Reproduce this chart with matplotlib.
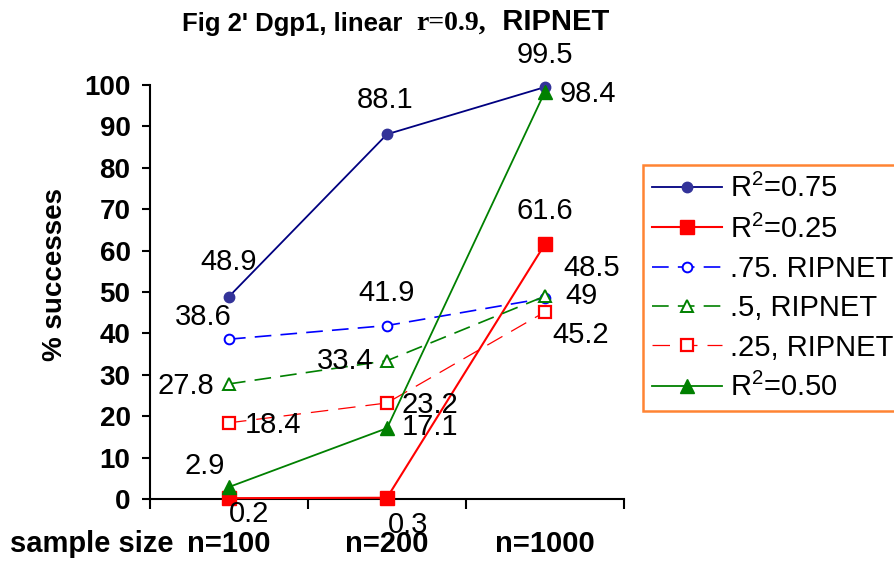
import matplotlib
matplotlib.use("Agg")
import matplotlib.pyplot as plt
import matplotlib.transforms as mtransforms

plt.rcParams['font.family'] = ['Liberation Sans', 'DejaVu Sans']
plt.rcParams['mathtext.fontset'] = 'custom'
plt.rcParams['mathtext.rm'] = 'Liberation Sans'
plt.rcParams['mathtext.it'] = 'Liberation Sans'

# data
sizes = ["n=100", "n=200", "n=1000"]
r75 = [48.9, 88.1, 99.5]
r25 = [0.2, 0.3, 61.6]
rip75 = [38.6, 41.9, 48.5]
rip50 = [27.8, 33.4, 49]
rip25 = [18.4, 23.2, 45.2]
r50 = [2.9, 17.1, 98.4]

labels = ["R$^2$=0.75", "R$^2$=0.25", ".75. RIPNET", ".5, RIPNET", ".25, RIPNET", "R$^2$=0.50"]

# where each value label sits relative to its point, in pixels (dx, dy up)
off_r75 = [(0, 35), (-2, 34), (0, 32)]
off_r25 = [(20, -16), (21, -27), (0, 33)]
off_rip75 = [(-26, 22), (0, 33), (47, 30)]
off_rip50 = [(-43, -2), (-42, 0), (37, 0)]
off_rip25 = [(44, -2), (43, -2), (36, -23)]
off_r50 = [(-24, 21), (43, 1), (43, -2)]

fig = plt.figure(figsize=(8.94, 5.62), dpi=100)
ax = fig.add_axes([150 / 894, 1 - 499 / 562, 474 / 894, 414 / 562])

x = list(range(len(sizes)))

series = [
    (r75, dict(color='#000080', lw=1.3, ls='-', marker='o', ms=7.5, mfc='#333399', mec='#333399'), off_r75),
    (r25, dict(color='#FF0000', lw=1.5, ls='-', marker='s', ms=9.5, mfc='#FF0000', mec='#FF0000'), off_r25),
    (rip75, dict(color='#0000FF', lw=1.2, ls=(0, (10, 5.5)), marker='o', ms=7, mfc='white', mec='#0000FF', mew=1.4), off_rip75),
    (rip50, dict(color='#008000', lw=1.2, ls=(0, (10, 5.5)), marker='^', ms=9, mfc='white', mec='#008000', mew=1.4), off_rip50),
    (rip25, dict(color='#FF0000', lw=0.9, ls=(0, (14, 8)), marker='s', ms=9, mfc='white', mec='#FF0000', mew=1.6), off_rip25),
    (r50, dict(color='#008000', lw=1.3, ls='-', marker='^', ms=10, mfc='#008000', mec='#008000'), off_r50),
]

handles = []
for (vals, style, offs), lab in zip(series, labels):
    h, = ax.plot(x, vals, label=lab, clip_on=False, zorder=3, **style)
    handles.append(h)
    for xi, v, (dx, dy) in zip(x, vals, offs):
        ax.annotate(f"{v:g}", (xi, v), xytext=(dx * 0.72, dy * 0.72), textcoords='offset points',
                    ha='center', va='center', fontsize=21, zorder=4)

ax.set_xlim(-0.5, 2.5)
ax.set_ylim(0, 100)
ax.set_yticks(range(0, 101, 10))
ax.set_xticks([-0.5, 0.5, 1.5, 2.5])
ax.set_xticklabels([])
for lbl in ax.get_yticklabels():
    lbl.set_fontweight('bold')
    lbl.set_fontsize(20)
ax.tick_params(axis='y', direction='out', length=6, width=1.5, pad=8)
ax.tick_params(axis='x', direction='out', length=7, width=1.5)
ax.spines['top'].set_visible(False)
ax.spines['right'].set_visible(False)
ax.spines['left'].set_linewidth(1.5)
ax.spines['bottom'].set_linewidth(1.5)

fig.text(55 / 894, 1 - 275 / 562, "% successes", rotation=90, ha='center', va='center',
         fontsize=20, fontweight='bold')

# category labels under the axis
trans = mtransforms.blended_transform_factory(ax.transData, fig.transFigure)
for pos, s in zip(x, sizes):
    ax.text(pos, 1 - 544 / 562, s, transform=trans, ha='center', va='center',
            fontsize=21, fontweight='bold')
fig.text(10 / 894, 1 - 544 / 562, "sample size", ha='left', va='center',
         fontsize=21, fontweight='bold')

# title in three pieces, middle one in a serif face
t1 = fig.text(182 / 894, 1 - 31 / 562, "Fig 2' Dgp1, linear  ", fontsize=18.5, fontweight='bold',
              ha='left', va='baseline')
t2 = ax.annotate("r=0.9,", xy=(1, 0), xycoords=t1, fontsize=20, fontweight='bold',
                 family='Liberation Serif', ha='left', va='bottom')
t3 = ax.annotate("  RIPNET", xy=(1, 0), xycoords=t2, fontsize=21, fontweight='bold',
                 ha='left', va='bottom')

leg = fig.legend(handles=handles, loc='upper left', bbox_to_anchor=(643 / 894, 1 - 165 / 562),
                 fontsize=21, frameon=True, fancybox=False, handlelength=2.4,
                 handletextpad=0.28, labelspacing=0.39, borderpad=0.3, borderaxespad=0)
leg.get_frame().set_edgecolor('#FF6600')
leg.get_frame().set_linewidth(1.8)

fig.savefig("out.png", dpi=100)
